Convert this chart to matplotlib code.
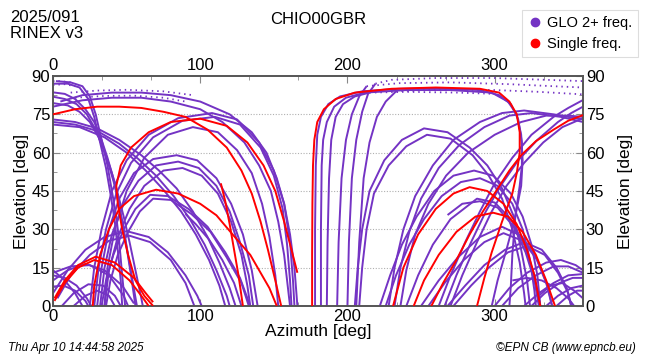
import matplotlib
matplotlib.use("Agg")
import matplotlib.pyplot as plt
from matplotlib.lines import Line2D

plt.rcParams["font.family"] = ["Liberation Sans", "DejaVu Sans"]

glo_tracks = [
    # steep tracks coming down from the zenith area (top left)
    [(0, 87), (10, 87), (18, 85.5), (24, 81), (28, 74), (32, 64), (36, 54), (39, 44), (42, 33), (44, 22), (46, 10), (47, 0)],
    [(2, 88), (12, 87.5), (20, 86), (25, 82), (29, 75), (33, 65), (37, 55), (40, 45), (43, 35), (45, 25), (47, 12), (49, 0)],
    [(0, 83.6), (8, 83), (15, 81), (22, 77), (28, 72), (33, 65), (37, 58), (41, 50), (44, 42), (47, 33), (50, 23), (53, 12), (56, 0)],
    [(0, 81.9), (8, 81), (16, 79), (23, 75), (29, 69), (34, 62), (38, 55), (42, 47), (45, 39), (48, 30), (51, 20), (54, 10), (57, 0)],
    [(0, 79.4), (10, 78.5), (18, 76), (25, 72), (31, 66), (36, 59), (40, 52), (44, 44), (48, 35), (52, 25), (56, 14), (60, 3), (61, 0)],
    # long tracks from the left edge down to the lower middle
    [(0, 73), (15, 72), (30, 69.5), (45, 65), (60, 59), (72, 53), (84, 46), (95, 37), (105, 27), (113, 17), (120, 7), (124, 0)],
    [(0, 72), (15, 71), (30, 68.5), (45, 63.5), (58, 57.5), (70, 51), (82, 43), (93, 34), (103, 24), (111, 14), (118, 4), (120, 0)],
    [(0, 71), (18, 70), (35, 66), (50, 60), (63, 53), (75, 45.5), (87, 37), (97, 28), (106, 18), (113, 8), (117, 0)],
    # high arcs over the north-east
    [(5, 80), (20, 82.5), (40, 83.5), (60, 83.5), (80, 82.5), (100, 80), (120, 75), (135, 68), (145, 60), (152, 50), (157, 40), (161, 28), (164, 15), (166, 0)],
    [(0, 78), (20, 80.5), (40, 81.5), (60, 81.5), (80, 80), (100, 77), (115, 72), (130, 64), (140, 55), (148, 45), (153, 33), (157, 20), (160, 5), (161, 0)],
    [(25, 0), (28, 15), (33, 30), (40, 45), (50, 57), (65, 67), (85, 73.5), (108, 75.5), (125, 73), (140, 64), (150, 53), (157, 40), (161, 25), (163, 10), (164, 0)],
    [(28, 0), (31, 15), (36, 30), (43, 44), (53, 56), (68, 66), (88, 72.5), (110, 74), (127, 71), (141, 62), (150, 51), (156, 38), (159, 24), (161, 10), (162, 0)],
    [(35, 0), (37, 15), (42, 30), (50, 45), (62, 58), (78, 67), (95, 70), (112, 68), (125, 61), (135, 52), (142, 40), (147, 27), (151, 12), (153, 0)],
    # arcs peaking near 55-59 deg
    [(30, 0), (33, 15), (38, 30), (45, 42), (55, 52), (68, 57.5), (84, 59), (98, 57), (111, 50), (121, 40), (129, 28), (135, 14), (139, 0)],
    [(32, 0), (35, 15), (40, 28), (48, 40), (58, 49), (70, 55), (85, 56.5), (99, 54), (111, 47), (120, 37), (127, 25), (133, 12), (136, 0)],
    [(35, 0), (38, 14), (44, 27), (52, 38), (62, 47), (75, 53), (88, 54), (101, 51), (112, 44), (121, 33), (128, 20), (132, 8), (134, 0)],
    # arcs peaking near 42-44 deg
    [(33, 0), (36, 10), (41, 20), (48, 30), (56, 38), (66, 43.5), (78, 43), (92, 38), (105, 31), (117, 21), (127, 11), (134, 0)],
    [(36, 0), (39, 10), (44, 20), (51, 29), (59, 37), (68, 42), (80, 41.5), (94, 36), (107, 29), (118, 19), (128, 9), (133, 0)],
    [(90, 36), (97, 32), (106, 26), (115, 18), (123, 9), (128, 0)],
    # arcs peaking near 28-30 deg
    [(0, 5), (10, 14), (22, 22), (35, 27), (50, 29.3), (65, 27), (78, 21), (90, 12), (98, 4), (101, 0)],
    [(3, 3), (12, 12), (25, 20), (38, 25.5), (52, 27.5), (66, 25), (80, 18), (90, 9), (96, 0)],
    # low arcs at the west edge and north
    [(0, 10), (10, 14), (22, 16.5), (35, 14), (47, 8), (55, 1)],
    [(0, 13), (12, 15.5), (25, 16), (38, 12), (48, 4), (51, 0)],
    [(0, 12), (8, 11), (16, 8), (23, 3), (26, 0)],
    [(0, 7.6), (7, 8), (15, 6), (22, 2), (24, 0)],
    [(0, 14), (8, 10), (15, 5), (20, 0)],
    [(6, 0), (14, 5), (24, 8.5), (34, 8), (42, 4), (46, 0)],
    [(14, 0), (22, 4), (30, 6), (38, 4), (42, 0)],
    # tracks rising almost vertically around south (az 178-215)
    [(178, 0), (178, 30), (178.5, 55), (179.5, 67), (182, 74), (187, 79), (195, 82), (210, 84), (235, 85), (260, 85.2), (290, 84.5), (303, 82.5), (311, 79), (316, 73), (318.5, 64), (318.5, 55), (317, 47), (314, 35), (312, 20), (311, 8), (310, 0)],
    [(182, 0), (182, 30), (182.5, 55), (183.5, 65), (186, 72), (191, 78), (199, 81.5), (212, 83.5), (240, 84.5), (270, 84.5), (298, 83.5), (309, 80), (315, 75), (318, 67), (319, 57), (318, 47), (314, 35), (308, 22), (302, 10), (298, 0)],
    [(186, 0), (186.5, 25), (187.5, 50), (189, 65), (192, 74), (197, 79), (205, 82), (215, 83.5)],
    [(193, 0), (194, 25), (196, 50), (199, 65), (203, 75), (208, 82), (213, 86)],
    [(200, 0), (201, 25), (203, 50), (206, 65), (210, 76), (214, 83), (219, 87)],
    [(206, 0), (208, 25), (211, 50), (215, 64), (220, 74), (226, 80), (233, 84)],
    # arcs peaking near 67-70 deg in the south-west
    [(205, 0), (207, 15), (210, 30), (215, 45), (225, 57), (237, 65), (252, 69.5), (268, 68), (283, 62), (295, 55), (305, 46), (313, 35), (318, 22), (322, 10), (324, 0)],
    [(208, 0), (210, 15), (213, 30), (218, 44), (228, 55), (240, 62.5), (254, 67), (270, 65.5), (285, 59), (296, 51), (305, 42), (312, 30), (317, 17), (320, 5), (321, 0)],
    # arcs peaking near 50-53 deg
    [(222, 0), (229, 12), (237, 24), (247, 35), (259, 45), (272, 51), (286, 53), (299, 51), (311, 44), (319, 35), (325, 24), (329, 12), (331, 0)],
    [(226, 0), (233, 12), (242, 24), (252, 34), (264, 43), (277, 48.5), (290, 50), (302, 47), (312, 40), (319, 30), (324, 18), (327, 6), (328, 0)],
    # tracks climbing to the north-west edge
    [(228, 0), (232, 15), (238, 30), (246, 43), (258, 55), (272, 65), (290, 72), (305, 75.5), (320, 76.5), (340, 75), (360, 73)],
    [(232, 0), (236, 15), (242, 29), (250, 42), (262, 54), (276, 63), (293, 70), (310, 74.5), (325, 75.5), (345, 74), (360, 72)],
    [(236, 0), (240, 14), (246, 28), (255, 40), (267, 51), (282, 60), (300, 67), (318, 72), (335, 74.5), (350, 74.5), (360, 74)],
    [(262, 0), (270, 12), (280, 25), (290, 37), (300, 48), (312, 58), (325, 67), (340, 74), (350, 77.5), (360, 80.6)],
    [(266, 0), (274, 12), (284, 25), (294, 37), (304, 47), (316, 57), (329, 65), (343, 72), (352, 75.5), (360, 78)],
    [(270, 0), (278, 12), (288, 25), (298, 37), (308, 47), (320, 56), (333, 64), (346, 70), (360, 73.5)],
    # lower arcs in the west / north-west
    [(240, 0), (248, 12), (258, 24), (270, 34), (288, 42), (300, 40.5), (311, 34), (320, 24), (327, 12), (331, 0)],
    [(268, 35.6), (278, 40), (290, 41), (302, 38.5), (313, 31), (321, 21), (327, 10), (330, 0)],
    [(250, 0), (262, 10), (275, 19), (290, 27), (305, 31), (318, 27.5), (328, 19), (335, 9), (339, 0)],
    [(255, 0), (266, 9), (279, 18), (293, 25), (306, 28.5), (319, 25.5), (329, 18), (336, 8), (339, 0)],
    [(268, 0), (280, 8), (293, 16), (307, 22), (320, 25), (332, 22), (342, 15), (349, 7), (352, 0)],
    [(272, 0), (284, 8), (296, 15), (309, 21), (322, 23.5), (334, 20), (343, 13), (350, 5), (352, 0)],
    [(300, 0), (310, 7), (322, 13), (335, 17), (345, 18), (355, 16), (360, 14)],
    [(305, 0), (316, 7), (328, 12), (340, 15.5), (350, 15.5), (360, 13)],
    [(320, 0), (330, 5), (340, 9), (350, 12), (360, 12.5)],
    [(325, 0), (334, 5), (344, 9), (353, 11), (360, 11)],
    [(335, 0), (343, 4), (352, 7), (360, 8)],
    [(342, 0), (350, 4), (356, 6), (360, 6)],
    [(312, 10), (322, 11), (332, 10), (342, 7), (350, 3), (354, 0)],
    [(330, 4), (338, 8), (346, 9), (354, 6), (360, 3)],
]

glo_dotted = [
    [(219, 87), (230, 88.5), (260, 89.2), (300, 89.2), (330, 88.6), (360, 88)],
    [(213, 86), (235, 87.2), (270, 87.5), (310, 86.8), (340, 86), (360, 85.5)],
    [(233, 84), (260, 84.7), (300, 84.5), (330, 83.8), (360, 82.8)],
    [(215, 83.5), (240, 83.8), (275, 83.5), (300, 83)],
    [(0, 88), (5, 88), (12, 87.5)],
    [(0, 86.5), (8, 86.8), (15, 86)],
    [(12, 83.5), (30, 84.3), (50, 84.6), (75, 84), (95, 82.5)],
    [(15, 81.5), (35, 82.2), (55, 82.3), (75, 81.5), (90, 80)],
]

single_tracks = [
    [(0, 75), (15, 77), (30, 78), (45, 78), (60, 77.5), (75, 76), (90, 74), (105, 69), (118, 62), (128, 53), (135, 44), (141, 33), (146, 22), (151, 10), (155, 0)],
    [(68, 0), (62, 4), (56, 10), (51, 20), (47, 30), (44, 40), (43, 47), (46, 55), (53, 62), (65, 68), (80, 72), (100, 73.3), (118, 70.5), (132, 64), (143, 55), (151, 45), (157, 33), (162, 22), (166, 13)],
    [(27, 0), (28, 8), (32, 20), (38, 30), (45, 38), (55, 43), (70, 45.5), (85, 44), (100, 40), (111, 35.5), (122, 28), (134, 20), (142, 12), (147, 7), (152, 0)],
    [(114, 48), (117, 41), (120, 32), (123, 22), (126, 12), (128, 4), (129, 0)],
    [(1, 3), (8, 10), (17, 16), (29, 19.3), (42, 17), (55, 11), (63, 5), (68, 1.5)],
    [(1, 2), (8, 9), (17, 15), (28, 18), (40, 16), (52, 10), (60, 4), (65, 0)],
    [(176, 0), (176, 20), (176.2, 40), (176.6, 55), (177.5, 65), (179.5, 72), (184, 77), (192, 81), (205, 83.5), (230, 85), (260, 85.5), (290, 85), (303, 83.5), (310, 80), (315, 75), (317, 68), (317, 60), (315, 52), (312, 44), (305, 33), (298, 21), (293, 11), (288, 0)],
    [(257, 0), (265, 9), (274, 18), (283, 28), (292, 37), (301, 45), (310, 53), (318, 59), (328, 64.5), (340, 69), (350, 72.5), (360, 74.7)],
    [(231, 0), (238, 15), (248, 28), (260, 38), (272, 44), (283, 46.5), (295, 45), (306, 40), (315, 32), (322, 22), (327, 12), (331, 0)],
    [(245, 0), (252, 10), (262, 20), (274, 29), (287, 35), (299, 36.5), (309, 35), (319, 29), (328, 20), (335, 10), (341, 0)],
]

station = "CHIO00GBR"
doy_label = "2025/091"
rinex_label = "RINEX v3"
stamp = "Thu Apr 10 14:44:58 2025"
credit = "\u00a9EPN CB (www.epncb.eu)"

glo_color = "#7433c4"
single_color = "#ff0000"

fig = plt.figure(figsize=(6.5, 3.6), dpi=100)
ax = fig.add_axes([53 / 650, 54 / 360, 530 / 650, 230 / 360])

for trk in glo_tracks:
    az, el = zip(*trk)
    ax.plot(az, el, color=glo_color, lw=1.4, solid_capstyle="butt", zorder=2)
for trk in glo_dotted:
    az, el = zip(*trk)
    ax.plot(az, el, color=glo_color, lw=1.3, ls=(0, (0.8, 2.2)), zorder=2)
for trk in single_tracks:
    az, el = zip(*trk)
    ax.plot(az, el, color=single_color, lw=1.4, solid_capstyle="butt", zorder=3)

ax.set_xlim(0, 360)
ax.set_ylim(0, 90)
ax.set_xticks([0, 100, 200, 300])
ax.set_xticks([100 / 3 * i for i in range(11)], minor=True)
ax.set_yticks(range(0, 91, 15))
ax.set_yticks([7.5 * i for i in range(13)], minor=True)
for y in range(15, 90, 15):
    ax.axhline(y, color="#b0b0b0", lw=0.8, ls=(0, (1, 1.5)), zorder=1)

ax.tick_params(which="both", direction="in", top=True, right=True,
               labeltop=True, labelright=True, color="#888888",
               labelsize=12, pad=2)
ax.tick_params(which="major", length=5)
ax.tick_params(which="minor", length=3)
for s in ax.spines.values():
    s.set_color("#555555")
    s.set_linewidth(1.4)

ax.set_xlabel("Azimuth [deg]", fontsize=12.5, labelpad=0)
ax.set_ylabel("Elevation [deg]", fontsize=12.5, labelpad=2)
ry = ax.secondary_yaxis("right")
ry.set_yticks([])
ry.spines["right"].set_visible(False)
ry.set_ylabel("Elevation [deg]", fontsize=12.5, labelpad=25)

fig.text(10 / 650, 1 - 18 / 360, doy_label, fontsize=12, va="center")
fig.text(10 / 650, 1 - 34 / 360, rinex_label, fontsize=12, va="center")
fig.text(318 / 650, 1 - 20 / 360, station, fontsize=12, ha="center", va="center")
fig.text(8 / 650, 1 - 348 / 360, stamp, fontsize=8.5, style="italic", va="center")
fig.text(636 / 650, 1 - 348 / 360, credit, fontsize=8.5, style="italic", va="center", ha="right")

handles = [
    Line2D([], [], ls="none", marker="o", ms=6, color=glo_color, label="GLO 2+ freq."),
    Line2D([], [], ls="none", marker="o", ms=6, color=single_color, label="Single freq."),
]
leg = fig.legend(handles=handles, loc="upper right", bbox_to_anchor=(645 / 650, 1 - 3 / 360),
                 fontsize=10.5, handletextpad=0.3, borderpad=0.4, labelspacing=0.5,
                 handlelength=1.0, fancybox=False, framealpha=1)
leg.get_frame().set_edgecolor("#dddddd")
leg.get_frame().set_linewidth(0.8)

fig.savefig("out.png", dpi=100)
